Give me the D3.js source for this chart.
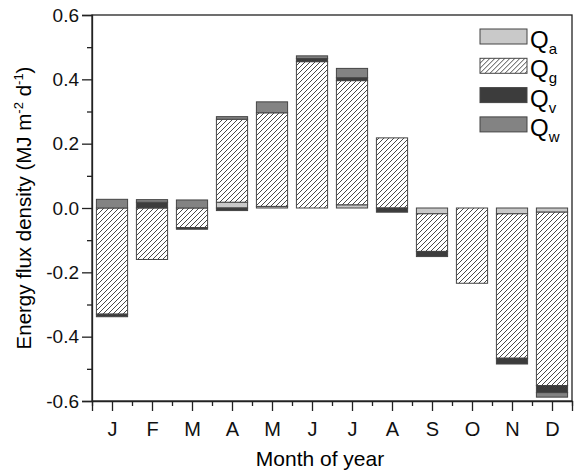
<!DOCTYPE html>
<html>
<head>
<meta charset="utf-8">
<script src="https://cdn.jsdelivr.net/npm/d3@7"></script>
<style>
  body { margin: 0; background: #fff; }
  svg { font-family: "Liberation Sans", Arial, sans-serif; }
  .axis path, .axis line { stroke: #222; stroke-width: 1.3; }
  .axis text { font-size: 19px; fill: #111; }
  .xaxis text { font-size: 20px; }
</style>
</head>
<body>
<div id="chart"></div>
<script>
// monthly energy flux components (MJ m-2 d-1)
var months = ['J', 'F', 'M', 'A', 'M', 'J', 'J', 'A', 'S', 'O', 'N', 'D'];
var qa = [0, 0, 0, 0.018, 0.005, 0, 0.010, 0, -0.018, 0, -0.018, -0.013];
var qg = [-0.330, -0.160, -0.061, 0.258, 0.291, 0.455, 0.386, 0.218, -0.117, -0.234, -0.449, -0.539];
var qv = [-0.008, 0.018, -0.005, -0.008, 0, 0.010, 0.009, -0.013, -0.016, 0, -0.018, -0.022];
var qw = [0.027, 0.008, 0.025, 0.008, 0.034, 0.008, 0.029, 0, 0, 0, 0, -0.014];
var yTicks = [-0.6, -0.4, -0.2, 0.0, 0.2, 0.4, 0.6];
var seriesNames = ['Qa', 'Qg', 'Qv', 'Qw'];
var seriesSubs = ['a', 'g', 'v', 'w'];

var W = 574, H = 474;
var margins = {left: 92, right: 2, top: 15, bottom: 73};
var w = W - margins.left - margins.right,
    h = H - margins.top - margins.bottom;

var rows = months.map(function(m, i) {
  return {i: i + 1, Qa: qa[i], Qg: qg[i], Qv: qv[i], Qw: qw[i]};
});

var svg = d3.select('#chart').append('svg')
  .attr('width', W).attr('height', H);

var defs = svg.append('defs');
defs.append('pattern')
  .attr('id', 'hatch')
  .attr('patternUnits', 'userSpaceOnUse')
  .attr('width', 5).attr('height', 5)
  .call(function(p) {
    p.append('rect').attr('width', 5).attr('height', 5).attr('fill', '#fff');
    p.append('path')
      .attr('d', 'M0,5 L5,0 M-1,1 L1,-1 M4,6 L6,4')
      .attr('stroke', '#333').attr('stroke-width', 0.9);
  });

var fills = {Qa: '#c9c9c9', Qg: 'url(#hatch)', Qv: '#3c3c3c', Qw: '#838383'};

var g = svg.append('g')
  .attr('transform', 'translate(' + margins.left + ',' + margins.top + ')');

var xScale = d3.scaleLinear().domain([0.5, 12.5]).range([0, w]);
var yScale = d3.scaleLinear().domain([-0.6, 0.6]).range([h, 0]);

var stack = d3.stack().keys(seriesNames).offset(d3.stackOffsetDiverging);
var layers = stack(rows);
var bw = 0.78;

g.selectAll('.layer')
  .data(layers)
  .enter().append('g')
  .attr('class', 'layer')
  .attr('fill', function(d) { return fills[d.key]; })
  .selectAll('rect')
  .data(function(d) { return d.filter(function(s) { return s[1] - s[0] !== 0; }); })
  .enter().append('rect')
  .attr('x', function(d) { return xScale(d.data.i - bw / 2); })
  .attr('width', xScale(bw) - xScale(0))
  .attr('y', function(d) { return yScale(Math.max(d[0], d[1])); })
  .attr('height', function(d) { return Math.abs(yScale(d[0]) - yScale(d[1])); })
  .attr('stroke', '#444')
  .attr('stroke-width', 1);

// frame
g.append('rect')
  .attr('width', w).attr('height', h)
  .attr('fill', 'none').attr('stroke', '#222').attr('stroke-width', 1.3);

// y axis
var fmt = function(d) { return d.toFixed(1); };
g.append('g').attr('class', 'axis')
  .call(d3.axisLeft(yScale).tickValues(yTicks).tickFormat(fmt).tickSize(10).tickPadding(3));
g.append('g').attr('class', 'axis')
  .call(d3.axisLeft(yScale).tickValues([-0.5, -0.3, -0.1, 0.1, 0.3, 0.5]).tickFormat('').tickSize(5))
  .select('.domain').remove();

// x axis
g.append('g').attr('class', 'axis xaxis')
  .attr('transform', 'translate(0,' + h + ')')
  .call(d3.axisBottom(xScale).tickValues(d3.range(1, 13))
    .tickFormat(function(d) { return months[d - 1]; }).tickSize(10).tickPadding(11));
g.append('g').attr('class', 'axis')
  .attr('transform', 'translate(0,' + h + ')')
  .call(d3.axisBottom(xScale).tickValues(d3.range(0.5, 13, 1)).tickFormat('').tickSize(5))
  .select('.domain').remove();

// axis titles
svg.append('text')
  .attr('x', margins.left + w / 2 - 12).attr('y', 466)
  .attr('text-anchor', 'middle')
  .style('font-size', '21px')
  .text('Month of year');

var yt = svg.append('text')
  .attr('transform', 'translate(31,' + (margins.top + h / 2) + ') rotate(-90)')
  .attr('text-anchor', 'middle')
  .style('font-size', '20.5px');
yt.append('tspan').text('Energy flux density (MJ m');
yt.append('tspan').attr('dy', -8).style('font-size', '13px').text('-2');
yt.append('tspan').attr('dy', 8).text(' d');
yt.append('tspan').attr('dy', -8).style('font-size', '13px').text('-1');
yt.append('tspan').attr('dy', 8).text(')');

// legend
var leg = svg.append('g').attr('transform', 'translate(480,29)');
seriesNames.forEach(function(k, i) {
  var row = leg.append('g').attr('transform', 'translate(0,' + (i * 29.3) + ')');
  row.append('rect')
    .attr('width', 47).attr('height', 15)
    .attr('fill', fills[k]).attr('stroke', '#444').attr('stroke-width', 1);
  var t = row.append('text').attr('x', 50).attr('y', 19)
    .style('font-size', '24px');
  t.append('tspan').text('Q');
  t.append('tspan').attr('dy', 6).style('font-size', '15px').text(seriesSubs[i]);
});
</script>
</body>
</html>
